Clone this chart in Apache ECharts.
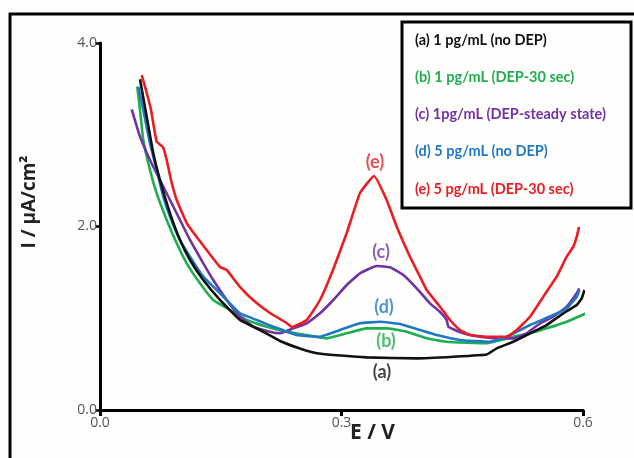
<!DOCTYPE html>
<html>
<head>
<meta charset="utf-8">
<script src="https://cdn.jsdelivr.net/npm/echarts@6/dist/echarts.min.js"></script>
<style>
  html, body { margin: 0; padding: 0; background: #fefefd; }
  #chart { width: 634px; height: 458px; }
</style>
</head>
<body>
<div id="chart"></div>
<script>
// Differential pulse voltammograms: potential (V) vs current density (µA/cm²)
const seriesNames = [
  '(a) 1 pg/mL (no DEP)',
  '(b) 1 pg/mL (DEP-30 sec)',
  '(c) 1pg/mL (DEP-steady state)',
  '(d) 5 pg/mL (no DEP)',
  '(e) 5 pg/mL (DEP-30 sec)'
];
const seriesTags = ['(a)', '(b)', '(c)', '(d)', '(e)'];

const E_a = [0.0497, 0.0580, 0.0662, 0.0745, 0.0870, 0.0994, 0.1118, 0.1283, 0.1491, 0.1739, 0.1988, 0.2236, 0.2484, 0.2692, 0.2898, 0.3313, 0.3934, 0.4389, 0.4804, 0.4928, 0.5134, 0.5342, 0.5549, 0.5755, 0.5922, 0.5984, 0.6019];
const I_a = [3.604, 3.197, 2.798, 2.507, 2.144, 1.853, 1.635, 1.417, 1.199, 0.981, 0.872, 0.752, 0.670, 0.618, 0.599, 0.574, 0.563, 0.581, 0.605, 0.672, 0.744, 0.836, 0.926, 1.054, 1.144, 1.217, 1.308];

const E_b = [0.0463, 0.0497, 0.0538, 0.0621, 0.0704, 0.0829, 0.0953, 0.1077, 0.1242, 0.1407, 0.1615, 0.1822, 0.2071, 0.2319, 0.2568, 0.2816, 0.3065, 0.3313, 0.3561, 0.3810, 0.4058, 0.4307, 0.4804, 0.5134, 0.5342, 0.5549, 0.5797, 0.6037];
const I_b = [3.524, 3.270, 2.943, 2.616, 2.362, 2.071, 1.817, 1.599, 1.381, 1.199, 1.090, 0.981, 0.908, 0.853, 0.817, 0.781, 0.836, 0.890, 0.890, 0.853, 0.781, 0.744, 0.727, 0.799, 0.836, 0.890, 0.962, 1.054];

const E_c = [0.0394, 0.0497, 0.0621, 0.0745, 0.0870, 0.0994, 0.1118, 0.1283, 0.1407, 0.1574, 0.1739, 0.1904, 0.2112, 0.2236, 0.2401, 0.2568, 0.2733, 0.2898, 0.3065, 0.3230, 0.3437, 0.3602, 0.3768, 0.3934, 0.4099, 0.4224, 0.4307, 0.4327, 0.4513, 0.4720, 0.4969, 0.5134, 0.5300, 0.5466, 0.5631, 0.5797, 0.5922, 0.5954];
const I_c = [3.277, 2.979, 2.725, 2.507, 2.289, 2.071, 1.853, 1.599, 1.417, 1.199, 1.017, 0.908, 0.853, 0.836, 0.890, 0.945, 1.054, 1.199, 1.362, 1.490, 1.569, 1.555, 1.471, 1.326, 1.163, 1.068, 0.981, 0.908, 0.836, 0.799, 0.781, 0.781, 0.836, 0.945, 1.017, 1.126, 1.272, 1.326];

const E_d = [0.0476, 0.0538, 0.0621, 0.0704, 0.0786, 0.0870, 0.0994, 0.1118, 0.1283, 0.1491, 0.1739, 0.1947, 0.2153, 0.2443, 0.2733, 0.2981, 0.3230, 0.3478, 0.3727, 0.3975, 0.4183, 0.4472, 0.4845, 0.5052, 0.5342, 0.5631, 0.5797, 0.5922, 0.5954];
const I_d = [3.524, 3.270, 2.907, 2.616, 2.325, 2.107, 1.853, 1.671, 1.453, 1.272, 1.054, 0.981, 0.908, 0.817, 0.799, 0.872, 0.945, 0.962, 0.937, 0.872, 0.817, 0.763, 0.744, 0.799, 0.926, 1.035, 1.108, 1.235, 1.308];

const E_e = [0.0518, 0.0571, 0.0634, 0.0704, 0.0783, 0.0829, 0.0882, 0.0953, 0.1077, 0.1201, 0.1325, 0.1491, 0.1574, 0.1739, 0.1901, 0.2112, 0.2319, 0.2385, 0.2568, 0.2733, 0.2894, 0.3065, 0.3230, 0.3404, 0.3561, 0.3686, 0.3851, 0.3975, 0.4058, 0.4224, 0.4348, 0.4472, 0.4596, 0.4804, 0.5052, 0.5176, 0.5342, 0.5507, 0.5673, 0.5797, 0.5880, 0.5922, 0.5950];
const I_e = [3.651, 3.488, 3.270, 2.924, 2.866, 2.725, 2.507, 2.289, 2.038, 1.886, 1.744, 1.559, 1.526, 1.341, 1.199, 1.057, 0.948, 0.905, 0.981, 1.199, 1.526, 1.929, 2.365, 2.550, 2.289, 1.998, 1.671, 1.453, 1.308, 1.126, 0.981, 0.872, 0.817, 0.799, 0.799, 0.872, 1.017, 1.235, 1.453, 1.671, 1.780, 1.889, 1.995];

// Tag positions (E, I) for the in-plot curve markers
const tagE = [0.3503, 0.3553, 0.3491, 0.3528, 0.3416];
const tagI = [0.414, 0.747, 1.722, 1.117, 2.703];

const xTicks = [0.0, 0.3, 0.6];
const yTicks = [0.0, 2.0, 4.0];

const colors = ['#111111', '#1fae4f', '#7232a4', '#1f78c4', '#ec1c24'];
const Es = [E_a, E_b, E_c, E_d, E_e];
const Is = [I_a, I_b, I_c, I_d, I_e];

const zip = (xs, ys) => xs.map((x, i) => [x, ys[i]]);

const chart = echarts.init(document.getElementById('chart'), null, { renderer: 'canvas' });

const lineSeries = seriesNames.map((name, k) => ({
  name: name,
  type: 'line',
  data: zip(Es[k], Is[k]),
  showSymbol: false,
  symbol: 'none',
  smooth: 0.12,
  clip: false,
  z: k === 0 ? 3 : 2,
  lineStyle: { color: colors[k], width: 2.6 },
  itemStyle: { color: colors[k] }
}));

const tagSeries = {
  type: 'scatter',
  symbolSize: 0,
  silent: true,
  z: 5,
  data: seriesTags.map((t, k) => ({
    value: [tagE[k], tagI[k]],
    label: {
      show: true,
      formatter: t,
      position: 'inside',
      color: colors[k],
      fontFamily: 'Lato',
      fontWeight: 'bold',
      fontSize: 18
    }
  }))
};

chart.setOption({
  backgroundColor: '#fefefd',
  animation: false,
  grid: { left: 100, right: 51, top: 43, bottom: 48, containLabel: false },
  legend: {
    orient: 'vertical',
    left: 410,
    top: 31,
    icon: 'none',
    itemWidth: 0,
    itemHeight: 18,
    itemGap: 19.25,
    padding: 0,
    selectedMode: false,
    data: seriesNames.map((n, k) => ({
      name: n,
      textStyle: { color: colors[k] }
    })),
    textStyle: {
      fontFamily: 'Lato',
      fontWeight: 'bold',
      fontSize: 14.5,
      lineHeight: 18
    }
  },
  xAxis: {
    type: 'value',
    min: xTicks[0],
    max: xTicks[xTicks.length - 1],
    interval: 0.3,
    axisLine: { show: true, onZero: false, lineStyle: { color: '#000', width: 3 } },
    axisTick: { show: true, inside: false, length: 6, lineStyle: { color: '#000', width: 3 } },
    splitLine: { show: false },
    axisLabel: {
      color: '#555',
      fontFamily: 'Open Sans',
      fontSize: 14,
      margin: 6,
      formatter: v => v.toFixed(1)
    }
  },
  yAxis: {
    type: 'value',
    min: yTicks[0],
    max: yTicks[yTicks.length - 1],
    interval: 2,
    axisLine: { show: true, onZero: false, lineStyle: { color: '#000', width: 3 } },
    axisTick: { show: true, inside: false, length: 4, lineStyle: { color: '#000', width: 2.5 } },
    splitLine: { show: false },
    axisLabel: {
      color: '#555',
      fontFamily: 'Open Sans',
      fontSize: 14,
      margin: 3,
      formatter: v => v.toFixed(1)
    }
  },
  graphic: [
    // frame lines along the top and left edges
    { type: 'line', shape: { x1: 9, y1: 14, x2: 634, y2: 14 }, style: { stroke: '#000', lineWidth: 3 }, z: 10 },
    { type: 'line', shape: { x1: 10, y1: 13, x2: 10, y2: 458 }, style: { stroke: '#000', lineWidth: 3 }, z: 10 },
    // legend box
    { type: 'rect', shape: { x: 402, y: 22, width: 229, height: 186 }, style: { fill: 'rgba(0,0,0,0)', stroke: '#000', lineWidth: 3 }, z: 10 },
    // axis titles
    {
      type: 'text', left: 350, top: 423, z: 10,
      style: { text: 'E / V', fill: '#222', font: 'bold 21px "Open Sans"' }
    },
    {
      type: 'text', x: 30, y: 202, rotation: Math.PI / 2, z: 10,
      style: { text: 'I / µA/cm²', fill: '#222', font: 'bold 19px "Open Sans"', align: 'center', verticalAlign: 'middle' }
    }
  ],
  series: lineSeries.concat([tagSeries])
});
</script>
</body>
</html>
